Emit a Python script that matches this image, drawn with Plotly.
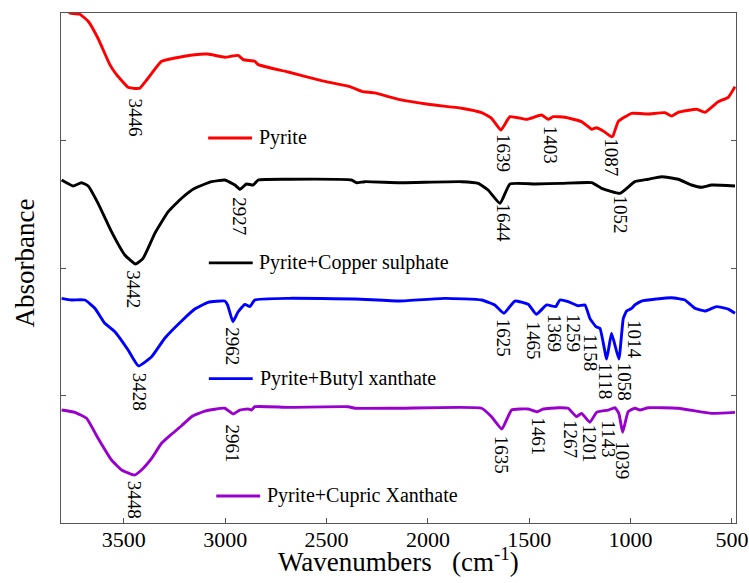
import plotly.graph_objects as go

# ---------------- data (wavenumber cm-1, offset absorbance) ----------------
pyrite_x = [3810, 3766, 3717, 3676, 3627, 3569, 3536, 3479, 3446, 3421, 3380, 3314, 3248, 3150,
            3086, 3002, 2936, 2911, 2854, 2837, 2689, 2525, 2385, 2327, 2262, 2138, 1999, 1834,
            1735, 1686, 1640, 1595, 1513, 1439, 1406, 1382, 1324, 1242, 1192, 1168, 1135, 1094,
            1087, 1061, 995, 913, 831, 798, 765, 674, 633, 568, 518, 485]
pyrite_y = [4.10, 4.00, 3.99, 3.935, 3.80, 3.595, 3.516, 3.417, 3.408, 3.41, 3.49, 3.621, 3.647, 3.673,
            3.678, 3.653, 3.668, 3.634, 3.621, 3.595, 3.537, 3.469, 3.422, 3.386, 3.373, 3.320, 3.284, 3.253,
            3.218, 3.174, 3.082, 3.187, 3.166, 3.200, 3.166, 3.187, 3.182, 3.148, 3.088, 3.100, 3.075, 3.030,
            3.035, 3.148, 3.213, 3.208, 3.218, 3.192, 3.221, 3.245, 3.221, 3.304, 3.339, 3.422]

copper_x = [3807, 3750, 3709, 3676, 3627, 3561, 3495, 3442, 3405, 3347, 3281, 3215, 3150, 3067,
            3002, 2952, 2927, 2895, 2862, 2837, 2689, 2377, 2352, 2311, 2138, 1834, 1752, 1703,
            1644, 1595, 1472, 1340, 1192, 1143, 1052, 979, 913, 847, 765, 699, 650, 600, 485]
copper_y = [2.690, 2.643, 2.669, 2.643, 2.507, 2.285, 2.102, 2.031, 2.076, 2.272, 2.442, 2.547, 2.625, 2.677,
            2.690, 2.651, 2.617, 2.659, 2.651, 2.690, 2.696, 2.690, 2.669, 2.677, 2.669, 2.677, 2.664, 2.612,
            2.507, 2.659, 2.659, 2.664, 2.669, 2.625, 2.586, 2.677, 2.696, 2.716, 2.696, 2.651, 2.633, 2.651, 2.643]

butyl_x = [3807, 3758, 3692, 3643, 3594, 3544, 3479, 3428, 3363, 3298, 3215, 3150, 3084, 3002,
           2988, 2962, 2936, 2903, 2878, 2854, 2689, 2360, 2138, 1916, 1735, 1670, 1625, 1571,
           1505, 1465, 1414, 1369, 1349, 1308, 1259, 1225, 1201, 1171, 1151, 1118, 1094, 1058,
           1036, 1020, 1014, 995, 979, 946, 798, 732, 683, 633, 576, 518, 485]
butyl_y = [1.762, 1.749, 1.749, 1.684, 1.566, 1.500, 1.357, 1.232, 1.304, 1.449, 1.584, 1.678, 1.731, 1.741,
           1.710, 1.579, 1.657, 1.715, 1.697, 1.749, 1.762, 1.757, 1.741, 1.762, 1.749, 1.710, 1.645, 1.741,
           1.715, 1.637, 1.710, 1.697, 1.749, 1.736, 1.704, 1.710, 1.605, 1.540, 1.527, 1.286, 1.488, 1.286,
           1.605, 1.663, 1.668, 1.684, 1.710, 1.741, 1.767, 1.749, 1.684, 1.663, 1.697, 1.678, 1.645]

cupric_x = [3807, 3742, 3684, 3627, 3561, 3511, 3448, 3413, 3363, 3314, 3265, 3215, 3166, 3100,
            3002, 2961, 2928, 2887, 2870, 2854, 2689, 2393, 2360, 2138, 1735, 1686, 1635, 1587,
            1505, 1461, 1431, 1357, 1308, 1267, 1242, 1201, 1168, 1143, 1110, 1077, 1058, 1039,
            1012, 979, 954, 913, 765, 600, 485]
cupric_y = [0.886, 0.868, 0.821, 0.664, 0.494, 0.416, 0.376, 0.416, 0.507, 0.625, 0.696, 0.763, 0.834, 0.878,
            0.900, 0.855, 0.886, 0.894, 0.886, 0.912, 0.907, 0.912, 0.900, 0.900, 0.900, 0.834, 0.737, 0.886,
            0.894, 0.873, 0.894, 0.904, 0.900, 0.834, 0.860, 0.790, 0.868, 0.878, 0.886, 0.904, 0.860, 0.711,
            0.873, 0.900, 0.886, 0.904, 0.900, 0.860, 0.868]

series_names = ["Pyrite", "Pyrite+Copper sulphate", "Pyrite+Butyl xanthate", "Pyrite+Cupric Xanthate"]
series_colors = ["#FF0000", "#000000", "#0000FF", "#9900CC"]

# peak labels: text, label x (cm-1), label top (y units)
pyrite_peaks = ["3446", "1639", "1403", "1087"]
pyrite_peak_x = [3442, 1630, 1396, 1094]
pyrite_peak_y = [3.341, 3.059, 3.122, 3.030]

copper_peaks = ["3442", "2927", "1644", "1052"]
copper_peak_x = [3451, 2933, 1625, 1050]
copper_peak_y = [1.992, 2.565, 2.510, 2.573]

butyl_peaks = ["3428", "2962", "1625", "1465", "1369", "1259", "1158", "1118", "1058", "1014"]
butyl_peak_x = [3426, 2965, 1626, 1481, 1379, 1281, 1201, 1124, 1033, 980]
butyl_peak_y = [1.187, 1.540, 1.613, 1.587, 1.649, 1.649, 1.488, 1.265, 1.265, 1.598]

cupric_peaks = ["3448", "2961", "1635", "1461", "1267", "1201", "1143", "1039"]
cupric_peak_x = [3447, 2963, 1633, 1453, 1297, 1203, 1113, 1039]
cupric_peak_y = [0.343, 0.782, 0.690, 0.839, 0.813, 0.776, 0.813, 0.651]

x_ticks = [3500, 3000, 2500, 2000, 1500, 1000, 500]

# ---------------- figure ----------------
FONT = "Liberation Serif, Times New Roman, serif"
fig = go.Figure()

xs = [pyrite_x, copper_x, butyl_x, cupric_x]
ys = [pyrite_y, copper_y, butyl_y, cupric_y]
for xv, yv, nm, col in zip(xs, ys, series_names, series_colors):
    fig.add_trace(go.Scatter(x=xv, y=yv, mode="lines", name=nm,
                             line=dict(color=col, width=2.9, shape="spline", smoothing=0.4),
                             showlegend=False))

annotations = []
for texts, px_, py_ in [(pyrite_peaks, pyrite_peak_x, pyrite_peak_y),
                        (copper_peaks, copper_peak_x, copper_peak_y),
                        (butyl_peaks, butyl_peak_x, butyl_peak_y),
                        (cupric_peaks, cupric_peak_x, cupric_peak_y)]:
    for t, a, b in zip(texts, px_, py_):
        annotations.append(dict(x=a, y=b, xref="x", yref="y", text=t, showarrow=False,
                                textangle=90, xanchor="center", yanchor="top",
                                font=dict(family=FONT, size=19, color="black"), borderpad=0))

# in-plot legend (line sample + label), positions in paper fraction of the plot area
legend_line = [(0.218, 0.283), (0.219, 0.284), (0.219, 0.284), (0.230, 0.295)]
legend_y = [0.755, 0.510, 0.283, 0.053]
legend_text_x = [0.291, 0.291, 0.292, 0.302]
shapes = []
for (x0, x1), yy, tx, nm, col in zip(legend_line, legend_y, legend_text_x, series_names, series_colors):
    shapes.append(dict(type="line", xref="paper", yref="paper", x0=x0, x1=x1, y0=yy, y1=yy,
                       line=dict(color=col, width=2.9)))
    annotations.append(dict(x=tx, y=yy, xref="paper", yref="paper", text=nm, showarrow=False,
                            xanchor="left", yanchor="middle",
                            font=dict(family=FONT, size=20, color="black")))

# axis titles
annotations.append(dict(x=0.5, y=-0.073, xref="paper", yref="paper",
                        text="Wavenumbers   (cm<sup>-1</sup>)", showarrow=False,
                        xanchor="center", yanchor="middle",
                        font=dict(family=FONT, size=27, color="black")))
annotations.append(dict(x=-0.054, y=0.510, xref="paper", yref="paper",
                        text="Absorbance", showarrow=False, textangle=-90,
                        xanchor="center", yanchor="middle",
                        font=dict(family=FONT, size=27, color="black")))

fig.update_layout(
    width=749, height=583,
    margin=dict(l=61, r=13, t=13, b=60),
    paper_bgcolor="white", plot_bgcolor="white",
    font=dict(family=FONT, color="black"),
    annotations=annotations, shapes=shapes,
    xaxis=dict(range=[3810, 480], tickvals=x_ticks, ticktext=[str(v) for v in x_ticks],
               ticks="inside", ticklen=5, tickcolor="#555555", showline=True, linecolor="#555555",
               linewidth=1.3, mirror=True, showgrid=False, zeroline=False, automargin=False,
               ticklabelstandoff=-4,
               tickfont=dict(family=FONT, size=22, color="black")),
    yaxis=dict(range=[0, 4], dtick=1, showticklabels=False, ticks="inside", ticklen=5,
               tickcolor="#555555", showline=True, linecolor="#555555", linewidth=1.3,
               mirror="ticks", showgrid=False, zeroline=False, automargin=False),
)

fig.write_html("out.html", config={"displayModeBar": False},
               post_script="document.body.style.margin='0';document.body.style.overflow='hidden';")
